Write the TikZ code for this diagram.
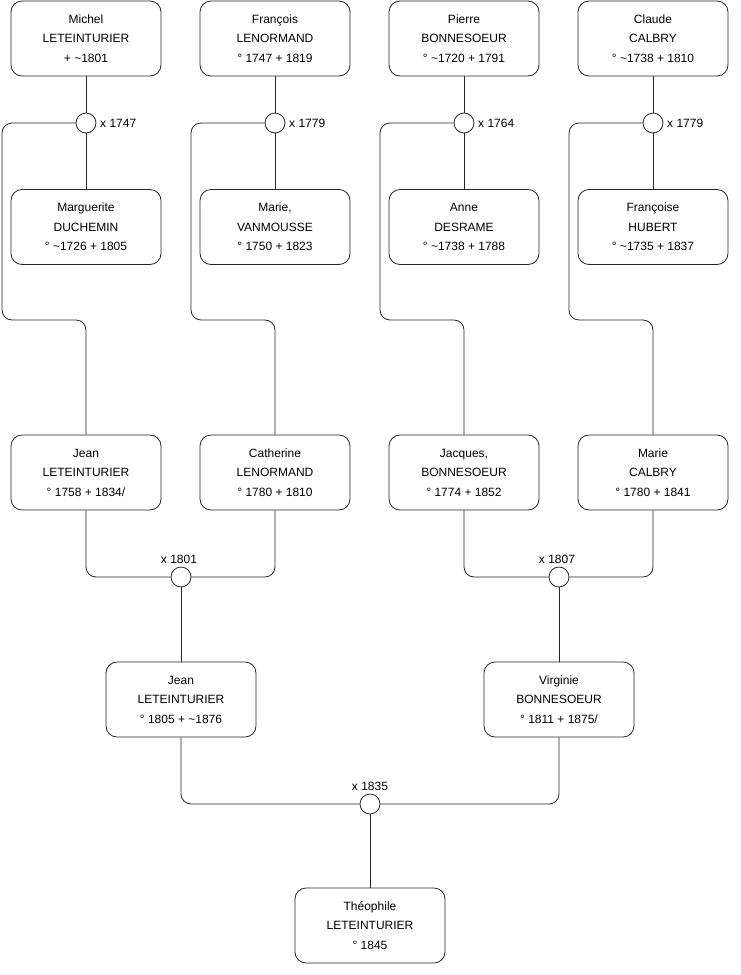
\documentclass[tikz,border=0pt]{standalone}
\usepackage{fontspec}
\setmainfont{Liberation Sans}
\begin{document}
\begin{tikzpicture}[x=1pt,y=-1pt,
  person/.style={draw=black!85,line width=0.8pt,rounded corners=11pt,minimum width=150pt,minimum height=75pt,inner sep=0pt,align=center,font=\fontsize{12}{19.5}\selectfont,fill=white},
  union/.style={circle,draw=black!85,line width=0.8pt,minimum size=20pt,inner sep=0pt,fill=white},
  conn/.style={draw=black!85,line width=0.8pt,rounded corners=10pt},
  lbl/.style={font=\fontsize{12}{14}\selectfont,inner sep=0pt}]
\useasboundingbox (0,0) rectangle (740,975);
% row 1
\node[person] (p1) at (86,38.5) {Michel\\LETEINTURIER\\+ \textasciitilde1801};
\node[person] (p2) at (275,38.5) {François\\LENORMAND\\° 1747 + 1819};
\node[person] (p3) at (464,38.5) {Pierre\\BONNESOEUR\\° \textasciitilde1720 + 1791};
\node[person] (p4) at (653,38.5) {Claude\\CALBRY\\° \textasciitilde1738 + 1810};
% row 2
\node[person] (w1) at (86,227) {Marguerite\\DUCHEMIN\\° \textasciitilde1726 + 1805};
\node[person] (w2) at (275,227) {Marie,\\VANMOUSSE\\° 1750 + 1823};
\node[person] (w3) at (464,227) {Anne\\DESRAME\\° \textasciitilde1738 + 1788};
\node[person] (w4) at (653,227) {Françoise\\HUBERT\\° \textasciitilde1735 + 1837};
% unions row 1
\node[union] (u1) at (86,123) {};
\node[union] (u2) at (275,123) {};
\node[union] (u3) at (464,123) {};
\node[union] (u4) at (653,123) {};
\node[lbl,anchor=west] (l1) at (100,123) {x 1747};
\node[lbl,anchor=west] (l2) at (289,123) {x 1779};
\node[lbl,anchor=west] (l3) at (478,123) {x 1764};
\node[lbl,anchor=west] (l4) at (667,123) {x 1779};
% row 3
\node[person] (c1) at (86,472.5) {Jean\\LETEINTURIER\\° 1758 + 1834/};
\node[person] (c2) at (275,472.5) {Catherine\\LENORMAND\\° 1780 + 1810};
\node[person] (c3) at (464,472.5) {Jacques,\\BONNESOEUR\\° 1774 + 1852};
\node[person] (c4) at (653,472.5) {Marie\\CALBRY\\° 1780 + 1841};
% unions row 3
\node[union] (m1) at (181,577) {};
\node[union] (m2) at (559,577) {};
\node[lbl,anchor=south] (lm1) at (179,564) {x 1801};
\node[lbl,anchor=south] (lm2) at (557,564) {x 1807};
% row 4
\node[person] (g1) at (181,699.5) {Jean\\LETEINTURIER\\° 1805 + \textasciitilde1876};
\node[person] (g2) at (559,699.5) {Virginie\\BONNESOEUR\\° 1811 + 1875/};
\node[union] (m3) at (370,804) {};
\node[lbl,anchor=south] (lm3) at (370,791) {x 1835};
% row 5
\node[person] (t) at (370,925.5) {Théophile\\LETEINTURIER\\° 1845};
% connectors row 1
\foreach \i in {1,2,3,4}{
  \draw[conn] (p\i.south) -- (u\i.north);
  \draw[conn] (u\i.south) -- (w\i.north);
}
\draw[conn] (u1.west) -| (2,320) -| (c1.north);
\draw[conn] (u2.west) -| (191,320) -| (c2.north);
\draw[conn] (u3.west) -| (380,320) -| (c3.north);
\draw[conn] (u4.west) -| (569,320) -| (c4.north);
% connectors row 3
\draw[conn] (c1.south) |- (m1.west);
\draw[conn] (c2.south) |- (m1.east);
\draw[conn] (c3.south) |- (m2.west);
\draw[conn] (c4.south) |- (m2.east);
\draw[conn] (m1.south) -- (g1.north);
\draw[conn] (m2.south) -- (g2.north);
% row 4
\draw[conn] (g1.south) |- (m3.west);
\draw[conn] (g2.south) |- (m3.east);
\draw[conn] (m3.south) -- (t.north);
\end{tikzpicture}
\end{document}
